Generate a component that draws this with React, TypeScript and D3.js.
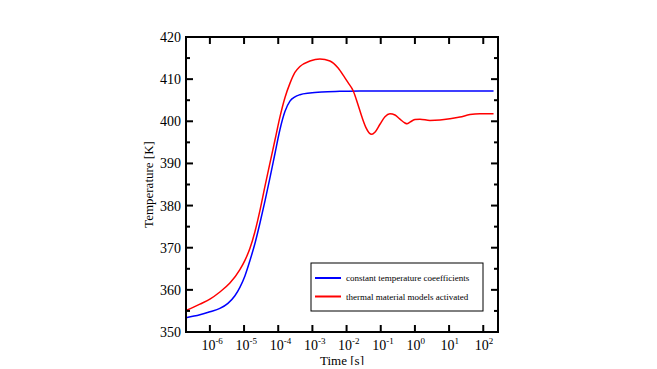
import React, { useEffect, useRef } from 'react'
import * as d3 from 'd3'

// time in seconds, temperature in K
const blueTime = [2e-7, 5.1e-7, 1e-6, 1.96e-6, 3.37e-6, 5.39e-6, 7.55e-6, 1.06e-5, 1.48e-5, 2.08e-5, 2.91e-5, 4.07e-5, 5.7e-5, 8e-5, 1.12e-4, 1.57e-4, 2.2e-4, 3.08e-4, 4.31e-4, 8.46e-4, 1.9e-3, 6.39e-3, 2.46e-2, 2e2]
const blueTemp = [353.4, 354.1, 354.8, 355.6, 356.8, 358.6, 360.6, 363.3, 366.9, 371.0, 375.8, 381.0, 386.5, 392.3, 398.0, 402.3, 404.8, 405.8, 406.3, 406.7, 406.95, 407.1, 407.2, 407.2]

const redTime = [2e-7, 5.1e-7, 1e-6, 1.96e-6, 3.85e-6, 7.55e-6, 1.06e-5, 1.48e-5, 2.08e-5, 2.91e-5, 4.07e-5, 5.7e-5, 8e-5, 1.12e-4, 1.57e-4, 2.2e-4, 3.08e-4, 4.31e-4, 8.46e-4, 1.66e-3, 3.26e-3, 5.58e-3, 8.95e-3, 1.12e-2, 1.57e-2, 2.15e-2, 2.82e-2, 3.69e-2, 4.52e-2, 5.52e-2, 6.76e-2, 9.48e-2, 0.133, 0.186, 0.261, 0.365, 0.511, 0.585, 0.716, 1.0, 1.41, 2.75, 5.41, 10.6, 20.8, 40.8, 80.1, 200]
const redTemp = [355.1, 356.6, 357.8, 359.5, 361.6, 364.8, 367.0, 369.8, 373.8, 378.8, 384.5, 390.0, 395.5, 401.0, 405.6, 409.0, 411.6, 413.0, 414.3, 414.8, 414.3, 412.7, 410.3, 409.1, 407.2, 404.0, 401.0, 398.5, 397.3, 396.9, 397.4, 399.3, 401.1, 401.8, 401.5, 400.5, 399.6, 399.4, 399.8, 400.4, 400.5, 400.2, 400.3, 400.6, 401.0, 401.6, 401.8, 401.8]

const xTicks = [1e-6, 1e-5, 1e-4, 1e-3, 1e-2, 1e-1, 1e0, 1e1, 1e2]
const yTicks = [350, 360, 370, 380, 390, 400, 410, 420]
const yMinorTicks = [355, 365, 375, 385, 395, 405, 415]

const seriesNames = ['constant temperature coeefficients', 'thermal material models activated']
const seriesColors = ['#0000ff', '#ff0000']

const App = () => {
  const svgRef = useRef<SVGSVGElement>(null)

  useEffect(() => {
    const width = 657
    const height = 369
    const left = 186
    const right = 498
    const top = 37
    const bottom = 332
    const font = '"Liberation Serif", "Times New Roman", serif'

    const svg = d3.select(svgRef.current).attr('width', width).attr('height', height)
    svg.selectAll('*').remove()

    const x = d3.scaleLog().domain([2e-7, 270]).range([left, right])
    const y = d3.scaleLinear().domain([350, 420]).range([bottom, top])

    // curves
    const line = d3
      .line<[number, number]>()
      .x((d) => x(d[0]))
      .y((d) => y(d[1]))
      .curve(d3.curveMonotoneX)

    const series = [
      d3.zip(blueTime, blueTemp) as [number, number][],
      d3.zip(redTime, redTemp) as [number, number][],
    ]
    series.forEach((s, i) => {
      svg
        .append('path')
        .datum(s)
        .attr('d', line)
        .attr('fill', 'none')
        .attr('stroke', seriesColors[i])
        .attr('stroke-width', 1.5)
    })

    // frame
    svg
      .append('rect')
      .attr('x', left)
      .attr('y', top)
      .attr('width', right - left)
      .attr('height', bottom - top)
      .attr('fill', 'none')
      .attr('stroke', 'black')
      .attr('stroke-width', 2)

    // x ticks (inside, bottom and top)
    xTicks.forEach((t) => {
      const px = x(t)
      svg.append('line').attr('x1', px).attr('x2', px).attr('y1', bottom).attr('y2', bottom - 7).attr('stroke', 'black').attr('stroke-width', 2)
      svg.append('line').attr('x1', px).attr('x2', px).attr('y1', top).attr('y2', top + 7).attr('stroke', 'black').attr('stroke-width', 2)
      const label = svg
        .append('text')
        .attr('x', px - 8.5)
        .attr('y', 350)
        .style('font-family', font)
        .style('font-size', '14px')
      label.append('tspan').text('10')
      label
        .append('tspan')
        .attr('dy', -6)
        .style('font-size', '9px')
        .text(String(Math.round(Math.log10(t))))
    })

    // y ticks (inside, left and right)
    yTicks.forEach((v) => {
      const py = y(v)
      svg.append('line').attr('x1', left).attr('x2', left + 7).attr('y1', py).attr('y2', py).attr('stroke', 'black').attr('stroke-width', 2)
      svg.append('line').attr('x1', right).attr('x2', right - 7).attr('y1', py).attr('y2', py).attr('stroke', 'black').attr('stroke-width', 2)
      svg
        .append('text')
        .attr('x', 181)
        .attr('y', py + 5)
        .attr('text-anchor', 'end')
        .style('font-family', font)
        .style('font-size', '14px')
        .text(v)
    })
    yMinorTicks.forEach((v) => {
      const py = y(v)
      svg.append('line').attr('x1', left).attr('x2', left + 4).attr('y1', py).attr('y2', py).attr('stroke', 'black').attr('stroke-width', 2)
      svg.append('line').attr('x1', right).attr('x2', right - 4).attr('y1', py).attr('y2', py).attr('stroke', 'black').attr('stroke-width', 2)
    })

    // axis titles
    svg
      .append('text')
      .attr('x', (left + right) / 2)
      .attr('y', 365)
      .attr('text-anchor', 'middle')
      .style('font-family', font)
      .style('font-size', '13px')
      .text('Time [s]')
    svg
      .append('text')
      .attr('transform', `translate(153, ${(top + bottom) / 2}) rotate(-90)`)
      .attr('text-anchor', 'middle')
      .style('font-family', font)
      .style('font-size', '13px')
      .text('Temperature [K]')

    // legend
    const legend = svg.append('g').attr('transform', 'translate(311, 263)')
    legend
      .append('rect')
      .attr('width', 172)
      .attr('height', 48)
      .attr('fill', 'white')
      .attr('stroke', 'black')
      .attr('stroke-width', 1)
    seriesNames.forEach((name, i) => {
      const ly = 15 + i * 18.5
      legend.append('line').attr('x1', 4).attr('x2', 30).attr('y1', ly).attr('y2', ly).attr('stroke', seriesColors[i]).attr('stroke-width', 2)
      legend
        .append('text')
        .attr('x', 35)
        .attr('y', ly + 3)
        .style('font-family', font)
        .style('font-size', '9px')
        .text(name)
    })
  }, [])

  return (
    <div style={{ margin: -8 }}>
      <svg ref={svgRef}></svg>
    </div>
  )
}

export default App
